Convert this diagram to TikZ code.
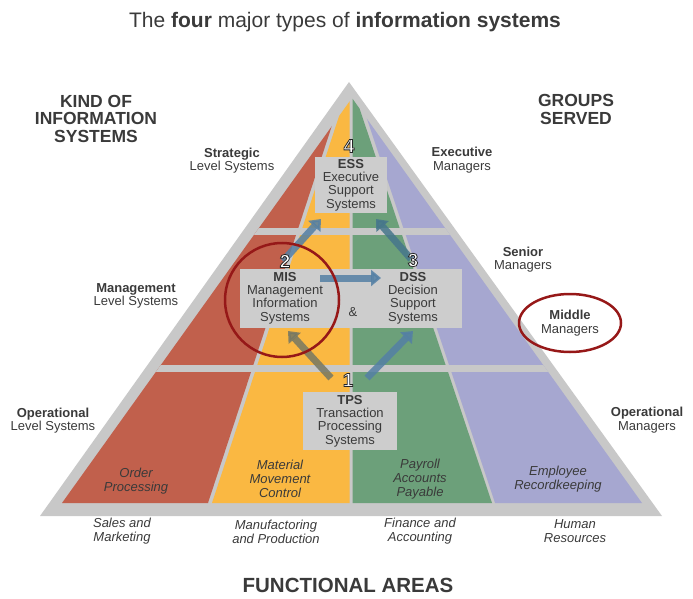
\documentclass[tikz,border=0pt]{standalone}
\usepackage{fontspec}
\setmainfont{Liberation Sans}
\usetikzlibrary{arrows.meta,calc,shapes.geometric}

\definecolor{pyrgray}{RGB}{200,200,200}
\definecolor{boxgray}{RGB}{205,205,205}
\definecolor{txtgray}{RGB}{58,58,58}
\definecolor{stripred}{RGB}{193,96,76}
\definecolor{stripyel}{RGB}{250,184,66}
\definecolor{stripgrn}{RGB}{108,160,122}
\definecolor{stripblu}{RGB}{166,167,208}
\definecolor{ringred}{RGB}{150,24,24}
\definecolor{flowblue}{RGB}{84,128,165}
\definecolor{flowteal}{RGB}{70,118,140}
\definecolor{flowolive}{RGB}{118,120,100}

\tikzset{
  lbl/.style={align=center, text=txtgray, inner sep=0pt, font=\fontsize{13}{13.4}\selectfont},
  head/.style={align=center, text=txtgray, inner sep=0pt, font=\bfseries\fontsize{17.5}{17.5}\selectfont},
  area/.style={align=center, text=txtgray, inner sep=0pt, font=\itshape\fontsize{13}{14}\selectfont},
  sysbox/.style={lbl, fill=boxgray},
  flow/.style={line width=7pt, opacity=0.85, -{Triangle[length=10pt,width=16pt]}},
  numtxt/.style={inner sep=0pt, text=white, font=\bfseries\fontsize{19}{19}\selectfont},
}

% white digit with a dark outline (fill + stroke)
\newcommand{\outdigit}[1]{\special{pdf:literal direct 0.15 G 0.8 w 2 Tr}#1\special{pdf:literal direct 0 Tr}}

\begin{document}
\begin{tikzpicture}[x=1pt, y=-1pt]
\useasboundingbox (0,0) rectangle (693,599);

\node[text=txtgray, inner sep=0pt, font=\fontsize{21}{24}\selectfont] (title) at (345,22)
  {The \textbf{four} major types of \textbf{information systems}};

% pyramid
\fill[pyrgray] (349,82) -- (662,516) -- (40,516) -- cycle;
\begin{scope}
  \clip (352,98) -- (642,503) -- (62,503) -- cycle;
  \fill[stripred] (0,503) -- (208,503) -- (341,98) -- (0,98) -- cycle;
  \fill[stripyel] (212,503) -- (349.5,503) -- (349.5,98) -- (345,98) -- cycle;
  \fill[stripgrn] (352.5,503) -- (492,503) -- (356,98) -- (352.5,98) -- cycle;
  \fill[stripblu] (495,503) -- (693,503) -- (693,98) -- (360,98) -- cycle;
  \fill[pyrgray] (0,228) rectangle (693,235);
  \fill[pyrgray] (0,365) rectangle (693,372);
\end{scope}

% systems
\node[sysbox, minimum width=72pt, minimum height=56pt] (ess) at (351,185)
  {\textbf{ESS}\\Executive\\Support\\Systems};
\node[sysbox, minimum width=222pt, minimum height=59pt] (mgmt) at (351,298.5) {};
\node[lbl] (mis) at (285,298) {\textbf{MIS}\\Management\\Information\\Systems};
\node[lbl] (dss) at (413,298) {\textbf{DSS}\\Decision\\Support\\Systems};
\node[lbl] (amp) at (353,312) {\&};
\node[sysbox, minimum width=94pt, minimum height=58pt] (tps) at (350,421)
  {\textbf{TPS}\\Transaction\\Processing\\Systems};

\coordinate (tps-l) at (331,378);
\coordinate (tps-r) at (367,378);
\coordinate (mis-in) at (288,331);
\coordinate (dss-in) at (413,331);
\coordinate (mis-out) at (320,278);
\coordinate (dss-to) at (381,278);
\coordinate (mis-up) at (283,261);
\coordinate (dss-up) at (411,259);
\coordinate (ess-l) at (321,219);
\coordinate (ess-r) at (376,219);

\draw[flow, draw=flowolive] (tps-l) -- (mis-in);
\draw[flow, draw=flowblue] (tps-r) -- (dss-in);
\draw[flow, draw=flowblue] (mis-out) -- (dss-to);
\draw[flow, draw=flowblue] (mis-up) -- (ess-l);
\draw[flow, draw=flowteal] (dss-up) -- (ess-r);

\node[numtxt] (n1) at (348,380) {\outdigit{1}};
\node[numtxt] (n2) at (285,261) {\outdigit{2}};
\node[numtxt] (n3) at (413,260) {\outdigit{3}};
\node[numtxt] (n4) at (349,146) {\outdigit{4}};

\node[circle, draw=ringred, line width=2.5pt, minimum size=114pt] (misring) at (282,300) {};

% levels
\node[head] (kind) at (96,118.5) {KIND OF\\INFORMATION\\SYSTEMS};
\node[head] (groups) at (576,109.5) {GROUPS\\SERVED};
\node[lbl] (strat) at (232,160.5) {\textbf{Strategic}\\Level Systems};
\node[lbl] (mgmtlvl) at (136,296) {\textbf{Management}\\Level Systems};
\node[lbl] (oplvl) at (53,420.5) {\textbf{Operational}\\Level Systems};
\node[lbl] (exec) at (462,160) {\textbf{Executive}\\Managers};
\node[lbl] (senior) at (523,259.5) {\textbf{Senior}\\Managers};
\node[lbl, ellipse, draw=ringred, line width=2.5pt, minimum width=102pt, minimum height=58pt] (middle) at (570,323)
  {\textbf{Middle}\\Managers};
\node[lbl] (opmgr) at (647,420) {\textbf{Operational}\\Managers};

% functional areas
\node[area] (order) at (136,481.5) {Order\\Processing};
\node[area] (material) at (280,479) {Material\\Movement\\Control};
\node[area] (payroll) at (420,479) {Payroll\\Accounts\\Payable};
\node[area] (employee) at (558,479) {Employee\\Recordkeeping};

\node[area] (sales) at (122,531.5) {Sales and\\Marketing};
\node[area] (manuf) at (276,531.5) {Manufactoring\\and Production};
\node[area] (finance) at (420,531.5) {Finance and\\Accounting};
\node[area] (human) at (575,531.5) {Human\\Resources};

\node[text=txtgray, inner sep=0pt, font=\bfseries\fontsize{20.5}{22}\selectfont] (funct) at (348,585) {FUNCTIONAL AREAS};

\end{tikzpicture}
\end{document}
